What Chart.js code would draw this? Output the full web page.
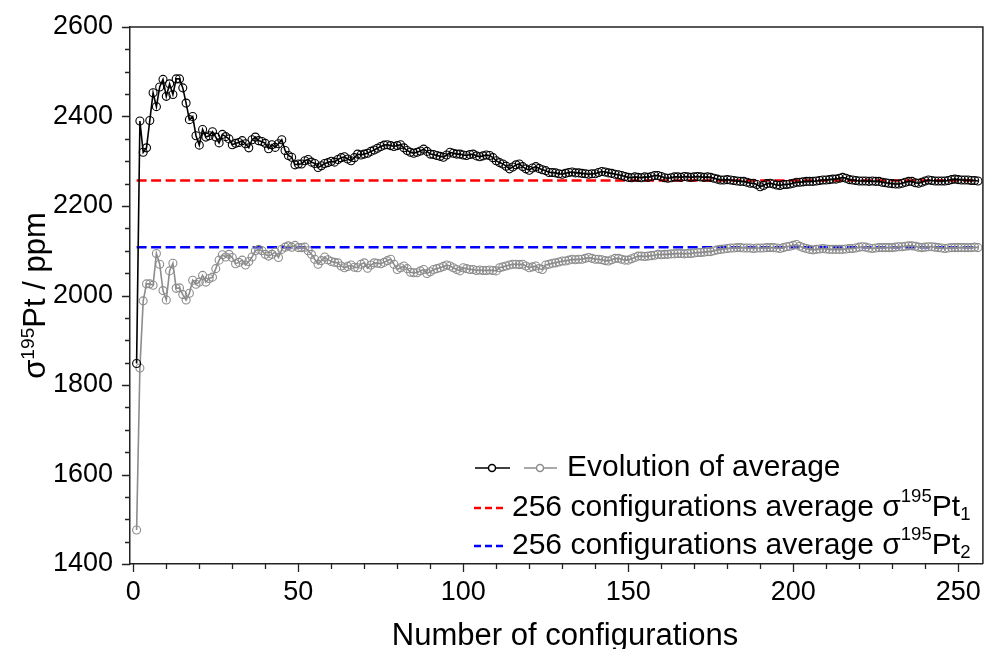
<!DOCTYPE html>
<html>
<head>
<meta charset="utf-8">
<script src="https://cdn.jsdelivr.net/npm/chart.js@4/dist/chart.umd.min.js"></script>
<style>
html,body{margin:0;padding:0;background:#fff;}
canvas{display:block;}
</style>
</head>
<body>
<canvas id="c" width="988" height="649"></canvas>
<script>

// running average of sigma(195Pt) for Pt1 (black) and Pt2 (gray), configs 1..256
let blackAvg=[
1848,2390,2320,2330,2391,2453,2422,2466,2483,2445,2473,2449,2484,2484,2464,2430,2393,2400,2357,2336,
2371,2354,2357,2366,2354,2341,2360,2355,2350,2337,2340,2342,2346,2339,2330,2348,2354,2346,2344,2340,
2328,2337,2331,2339,2348,2324,2313,2309,2292,2294,2294,2301,2304,2298,2295,2286,2290,2295,2297,2300,
2298,2304,2308,2310,2305,2301,2308,2316,2314,2316,2318,2322,2325,2329,2333,2336,2337,2335,2333,2335,
2337,2330,2324,2320,2318,2320,2323,2327,2322,2316,2315,2313,2311,2309,2314,2320,2318,2316,2316,2314,
2313,2315,2316,2312,2310,2312,2314,2313,2308,2301,2297,2294,2289,2283,2287,2292,2294,2288,2283,2280,
2285,2288,2284,2281,2279,2275,2275,2274,2272,2271,2273,2275,2276,2274,2274,2273,2272,2271,2272,2272,
2275,2277,2276,2274,2273,2271,2270,2268,2266,2264,2263,2265,2264,2263,2265,2264,2266,2268,2268,2266,
2263,2262,2263,2265,2265,2264,2266,2265,2264,2265,2266,2265,2264,2265,2264,2262,2260,2258,2258,2259,
2258,2257,2256,2255,2255,2253,2251,2251,2248,2243,2246,2250,2251,2249,2247,2246,2248,2248,2249,2251,
2253,2253,2254,2255,2255,2255,2256,2257,2258,2258,2259,2260,2260,2262,2264,2262,2259,2258,2257,2256,
2256,2256,2255,2256,2255,2255,2253,2252,2251,2250,2249,2249,2251,2253,2255,2255,2252,2251,2253,2256,
2258,2257,2256,2256,2256,2256,2257,2259,2260,2259,2258,2258,2258,2257,2257,2256
];

let grayAvg=[
1476,1838,1988,2026,2026,2023,2094,2070,2011,1990,2055,2072,2016,2017,2002,1990,2005,2034,2025,2030,
2045,2030,2038,2041,2060,2079,2091,2086,2092,2085,2071,2074,2079,2068,2076,2086,2100,2103,2100,2092,
2088,2092,2097,2085,2103,2108,2111,2108,2112,2107,2107,2108,2100,2092,2081,2070,2078,2086,2080,2076,
2074,2073,2066,2062,2065,2068,2063,2062,2070,2073,2061,2068,2073,2072,2071,2074,2078,2081,2070,2058,
2062,2066,2060,2052,2051,2051,2055,2058,2049,2053,2058,2060,2062,2065,2068,2066,2062,2058,2055,2062,
2060,2058,2058,2056,2057,2056,2056,2057,2056,2055,2062,2064,2066,2068,2070,2070,2069,2070,2066,2062,
2064,2066,2060,2058,2068,2070,2072,2073,2075,2077,2077,2079,2081,2080,2081,2081,2083,2085,2083,2081,
2081,2080,2078,2077,2080,2083,2083,2081,2079,2079,2082,2085,2088,2088,2087,2088,2089,2090,2092,2091,
2092,2092,2093,2093,2094,2094,2093,2094,2094,2095,2096,2096,2097,2098,2098,2100,2102,2103,2104,2105,
2106,2106,2107,2107,2106,2106,2106,2105,2106,2106,2106,2107,2107,2107,2106,2105,2107,2109,2110,2112,
2114,2110,2107,2105,2103,2102,2103,2104,2105,2104,2103,2103,2103,2103,2103,2104,2105,2105,2106,2108,
2109,2108,2106,2105,2106,2107,2107,2107,2107,2107,2108,2109,2109,2110,2111,2111,2110,2108,2107,2108,
2109,2109,2108,2107,2106,2105,2106,2107,2107,2107,2107,2107,2107,2107,2108,2107
];

let refPt1=2257;
let refPt2=2108;
let refRange=[1,256];

let xTicks=[0,50,100,150,200,250];
let yTicks=[1400,1600,1800,2000,2200,2400,2600];

let FONT="'Liberation Sans', Arial, sans-serif";

let blackPts=blackAvg.map((v,i)=>({x:i+1,y:v}));
let grayPts=grayAvg.map((v,i)=>({x:i+1,y:v}));

function drawScript(ctx,parts,x,y,size){
  // parts: [text, mode] mode: n normal, sup, sub
  parts.forEach(p=>{
    let s=p[1]=="n"?size:size*0.62;
    let dy=p[1]=="sup"?-size*0.36:(p[1]=="sub"?size*0.22:0);
    ctx.font=s+"px "+FONT;
    ctx.fillText(p[0],x,y+dy);
    x+=ctx.measureText(p[0]).width;
  });
  return x;
}

let decor={
  id:"decor",
  afterDraw(chart){
    let ctx=chart.ctx;
    let a=chart.chartArea;
    let xs=chart.scales.x, ys=chart.scales.y;
    ctx.save();
    ctx.strokeStyle="#222";
    ctx.lineWidth=1.5;
    // frame top + right
    ctx.beginPath();
    ctx.moveTo(a.left,a.top);ctx.lineTo(a.right,a.top);ctx.lineTo(a.right,a.bottom);
    ctx.stroke();
    // ticks
    ctx.lineWidth=1.3;
    ctx.beginPath();
    for(let v=0;v<=250;v+=10){
      let px=Math.round(xs.getPixelForValue(v))+0.5;
      let len=v%50==0?8:5;
      ctx.moveTo(px,a.bottom);ctx.lineTo(px,a.bottom+len);
    }
    for(let v=1400;v<=2600;v+=50){
      let py=Math.round(ys.getPixelForValue(v))+0.5;
      let len=v%200==0?8:5;
      ctx.moveTo(a.left,py);ctx.lineTo(a.left-len,py);
    }
    ctx.stroke();

    // axis titles
    ctx.fillStyle="#000";
    ctx.textBaseline="alphabetic";
    ctx.font="31px "+FONT;
    let t="Number of configurations";
    let w=ctx.measureText(t).width;
    ctx.fillText(t,565-w/2,645);

    ctx.save();
    ctx.translate(45,(a.top+a.bottom)/2);
    ctx.rotate(-Math.PI/2);
    let parts=[["σ","n"],["195","sup"],["Pt / ppm","n"]];
    let tw=0;
    parts.forEach(p=>{ctx.font=(p[1]=="n"?31:31*0.62)+"px "+FONT;tw+=ctx.measureText(p[0]).width;});
    drawScript(ctx,parts,-tw/2,0,31);
    ctx.restore();

    // legend
    let ly=[468,508,546];
    ctx.lineWidth=1.5;
    ctx.setLineDash([]);
    ctx.strokeStyle="#000";
    ctx.beginPath();ctx.moveTo(475,ly[0]);ctx.lineTo(510,ly[0]);ctx.stroke();
    ctx.beginPath();ctx.arc(492,ly[0],3.5,0,Math.PI*2);ctx.fillStyle="#fff";ctx.fill();ctx.stroke();
    ctx.strokeStyle="#8c8c8c";
    ctx.beginPath();ctx.moveTo(524,ly[0]);ctx.lineTo(557,ly[0]);ctx.stroke();
    ctx.beginPath();ctx.arc(540,ly[0],3.5,0,Math.PI*2);ctx.fill();ctx.stroke();

    ctx.lineWidth=2.5;
    ctx.setLineDash([7,4]);
    ctx.strokeStyle="#ff0000";
    ctx.beginPath();ctx.moveTo(474,ly[1]);ctx.lineTo(507,ly[1]);ctx.stroke();
    ctx.strokeStyle="#0000ff";
    ctx.beginPath();ctx.moveTo(474,ly[2]);ctx.lineTo(507,ly[2]);ctx.stroke();
    ctx.setLineDash([]);

    ctx.fillStyle="#000";
    ctx.textBaseline="middle";
    drawScript(ctx,[["Evolution of average","n"]],567,ly[0],30);
    drawScript(ctx,[["256 configurations average σ","n"],["195","sup"],["Pt","n"],["1","sub"]],512,ly[1],30);
    drawScript(ctx,[["256 configurations average σ","n"],["195","sup"],["Pt","n"],["2","sub"]],512,ly[2],30);
    ctx.restore();
  }
};

new Chart(document.getElementById("c"),{
  type:"line",
  data:{
    datasets:[
      {label:"avg Pt1",data:blackPts,borderColor:"#000",borderWidth:1.6,pointRadius:4,pointBorderWidth:1.1,
       pointBorderColor:"#000",pointBackgroundColor:"rgba(0,0,0,0)",tension:0,order:1},
      {label:"avg Pt2",data:grayPts,borderColor:"#8c8c8c",borderWidth:1.6,pointRadius:4,pointBorderWidth:1.1,
       pointBorderColor:"#8c8c8c",pointBackgroundColor:"rgba(0,0,0,0)",tension:0,order:2},
      {label:"ref1",data:refRange.map(x=>({x:x,y:refPt1})),borderColor:"#ff0000",borderWidth:2.5,borderDash:[10,4.5],
       pointRadius:0,order:3},
      {label:"ref2",data:refRange.map(x=>({x:x,y:refPt2})),borderColor:"#0000ff",borderWidth:2.5,borderDash:[10,4.5],
       pointRadius:0,order:4}
    ]
  },
  options:{
    responsive:false,
    animation:false,
    devicePixelRatio:1,
    layout:{padding:{top:27,right:5,left:0,bottom:0}},
    plugins:{legend:{display:false},tooltip:{enabled:false}},
    scales:{
      x:{
        type:"linear",min:-1,max:257.5,
        afterBuildTicks:s=>{s.ticks=xTicks.map(v=>({value:v}));},
        afterFit:s=>{s.height=85;s.paddingLeft=0;s.paddingRight=0;},
        grid:{display:false},
        border:{display:true,color:"#222",width:1.5},
        ticks:{color:"#000",font:{family:FONT,size:27},padding:4,maxRotation:0,callback:v=>String(v)}
      },
      y:{
        type:"linear",min:1400,max:2600,
        afterBuildTicks:s=>{s.ticks=yTicks.map(v=>({value:v}));},
        afterFit:s=>{s.width=130;s.paddingTop=0;s.paddingBottom=0;},
        grid:{display:false},
        border:{display:true,color:"#222",width:1.5},
        ticks:{color:"#000",font:{family:FONT,size:27},padding:9,callback:v=>String(v)}
      }
    }
  },
  plugins:[decor]
});
</script>
</body>
</html>
